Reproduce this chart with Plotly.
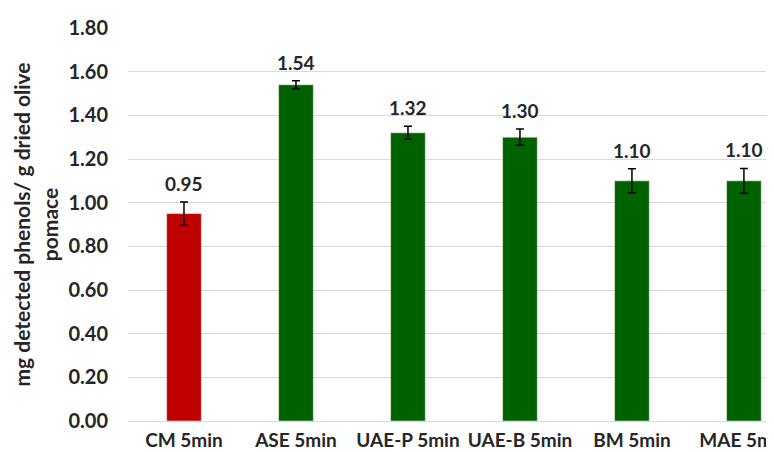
import plotly.graph_objects as go

categories = ["CM 5min", "ASE 5min", "UAE-P 5min", "UAE-B 5min", "BM 5min", "MAE 5min"]
values = [0.95, 1.54, 1.32, 1.30, 1.10, 1.10]
errors = [0.053, 0.018, 0.030, 0.037, 0.055, 0.057]
colors = ["#C00000", "#006100", "#006100", "#006100", "#006100", "#006100"]
tick_vals = [0, 0.2, 0.4, 0.6, 0.8, 1.0, 1.2, 1.4, 1.6, 1.8]
tick_text = ["0.00", "0.20", "0.40", "0.60", "0.80", "1.00", "1.20", "1.40", "1.60", "1.80"]

FONT = "Lato"
TXT = "#262626"

fig = go.Figure()
fig.add_trace(go.Bar(
    x=categories, y=values,
    marker=dict(color=colors, line=dict(color="rgba(255,255,255,0.5)", width=1)),
    width=0.31,
    error_y=dict(type="data", array=errors, visible=True, color="#000000", thickness=1.5, width=4),
    showlegend=False,
))

for c, v, e in zip(categories, values, errors):
    fig.add_annotation(x=c, y=v + e, text=f"<b>{v:.2f}</b>", showarrow=False,
                       yanchor="bottom", yshift=5,
                       font=dict(family=FONT, size=19, color=TXT))

fig.update_layout(
    width=774, height=452,
    margin=dict(l=120, r=0, t=20, b=39),
    plot_bgcolor="white", paper_bgcolor="white",
    font=dict(family=FONT, color=TXT),
)
fig.update_xaxes(
    range=[-0.5, 5.34],
    tickfont=dict(family=FONT, size=19, color=TXT),
    tickprefix="<b>", ticksuffix="</b>",
    tickangle=0, automargin=False,
    showline=True, linecolor="#d9d9d9", linewidth=1,
    ticks="outside", ticklen=2, tickcolor="white",
)
fig.update_yaxes(
    range=[0, 1.8],
    tickvals=tick_vals, ticktext=["<b>" + t + "</b>" for t in tick_text],
    tickfont=dict(family=FONT, size=20, color=TXT),
    showgrid=True, gridcolor="#d9d9d9", gridwidth=1,
    zeroline=False, ticks="outside", ticklen=15, tickcolor="white",
    automargin=False,
    title=dict(text="<b>mg detected phenols/ g dried olive<br>pomace</b>",
               font=dict(family=FONT, size=21, color=TXT), standoff=4),
)

fig.write_html("out.html")
